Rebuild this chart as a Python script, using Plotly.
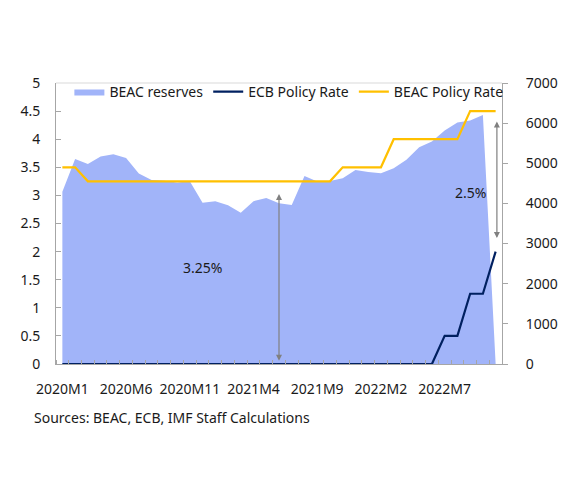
import plotly.graph_objects as go

months = []
for y in (2020, 2021, 2022):
    for m in range(1, 13):
        months.append(f"{y}M{m}")
months = months[:35]  # 2020M1 .. 2022M11

beac_reserves = [4290, 5105, 4985, 5170, 5225, 5130, 4745, 4585, 4565, 4520, 4550,
                 4020, 4055, 3955, 3770, 4055, 4135, 4005, 3960, 4685, 4545,
                 4560, 4625, 4835, 4785, 4750, 4875, 5085, 5400, 5540, 5815,
                 6015, 6065, 6205, 0]
ecb_rate = [0.0] * 29 + [0.0, 0.5, 0.5, 1.25, 1.25, 2.0]
beac_rate = [3.5, 3.5] + [3.25] * 20 + [3.5] * 4 + [4.0] * 6 + [4.5] * 3

tick_labels = ["2020M1", "2020M6", "2020M11", "2021M4", "2021M9", "2022M2", "2022M7"]

x = list(range(len(months)))
tickvals = [months.index(t) for t in tick_labels]

FONT = "Noto Sans"
GRAY = "#A6A6A6"
FS = 14

fig = go.Figure()
fig.add_trace(go.Scatter(
    x=x, y=beac_reserves, name="BEAC reserves", mode="lines",
    fill="tozeroy", fillcolor="#A1B4F9", line=dict(width=0, color="#A1B4F9"),
    yaxis="y", hoverinfo="skip"))
fig.add_trace(go.Scatter(
    x=x, y=ecb_rate, name="ECB Policy Rate", mode="lines",
    line=dict(color="#002060", width=2.2), yaxis="y2"))
fig.add_trace(go.Scatter(
    x=x, y=beac_rate, name="BEAC Policy Rate", mode="lines",
    line=dict(color="#FFC000", width=2.2), yaxis="y2"))

# annotations
fig.add_annotation(x=17, y=0.06, ax=17, ay=3.05, xref="x", yref="y2",
                   axref="x", ayref="y2", showarrow=True, arrowhead=2,
                   startarrowhead=2, arrowside="end+start", arrowsize=1,
                   arrowwidth=1.2, arrowcolor="#808080", text="")
fig.add_annotation(x=34.1, y=2.24, ax=34.1, ay=4.34, xref="x", yref="y2",
                   axref="x", ayref="y2", showarrow=True, arrowhead=2,
                   startarrowhead=2, arrowside="end+start", arrowsize=1,
                   arrowwidth=1.2, arrowcolor="#808080", text="")
fig.add_annotation(x=11, y=1.71, xref="x", yref="y2", text="3.25%",
                   showarrow=False, font=dict(family=FONT, size=FS, color="#1a1a1a"))
fig.add_annotation(x=32, y=3.05, xref="x", yref="y2", text="2.5%",
                   showarrow=False, font=dict(family=FONT, size=FS, color="#1a1a1a"))
fig.add_annotation(x=-0.054, y=-0.192, xref="paper", yref="paper",
                   xanchor="left", yanchor="middle", showarrow=False,
                   text="Sources: BEAC, ECB, IMF Staff Calculations",
                   font=dict(family=FONT, size=FS, color="#1a1a1a"))

# top border line
fig.add_shape(type="line", xref="paper", yref="paper", x0=0, x1=1, y0=1, y1=1,
              line=dict(color="#D9D9D9", width=1))

fig.update_layout(
    width=573, height=479,
    margin=dict(l=46, r=79, t=75, b=123),
    paper_bgcolor="white", plot_bgcolor="white",
    font=dict(family=FONT, size=FS, color="#1a1a1a"),
    showlegend=True,
    legend=dict(orientation="h", x=0.03, y=1.025, xanchor="left", yanchor="top",
                bgcolor="rgba(0,0,0,0)", font=dict(family=FONT, size=FS),
                traceorder="normal", itemwidth=30),
    xaxis=dict(
        range=[-0.5, len(months) - 0.5], tickmode="array", tickvals=tickvals,
        ticktext=tick_labels, ticks="", showline=True, linecolor=GRAY,
        linewidth=1, showgrid=False, zeroline=False, ticklabelstandoff=12,
        minor=dict(ticks="inside", tick0=0.5, dtick=1, ticklen=4,
                   tickcolor=GRAY, showgrid=False),
    ),
    yaxis=dict(
        side="right", range=[0, 7000], dtick=1000, tick0=0,
        ticks="outside", ticklen=5, tickcolor=GRAY, showline=True,
        linecolor=GRAY, linewidth=1, showgrid=False, zeroline=False,
        ticklabelstandoff=15,
    ),
    yaxis2=dict(
        side="left", overlaying="y", range=[0, 5], dtick=0.5, tick0=0,
        ticks="inside", ticklen=5, tickcolor=GRAY, showline=True,
        linecolor=GRAY, linewidth=1, showgrid=False, zeroline=False,
        ticklabelstandoff=12,
    ),
)

fig.write_html("out.html")
